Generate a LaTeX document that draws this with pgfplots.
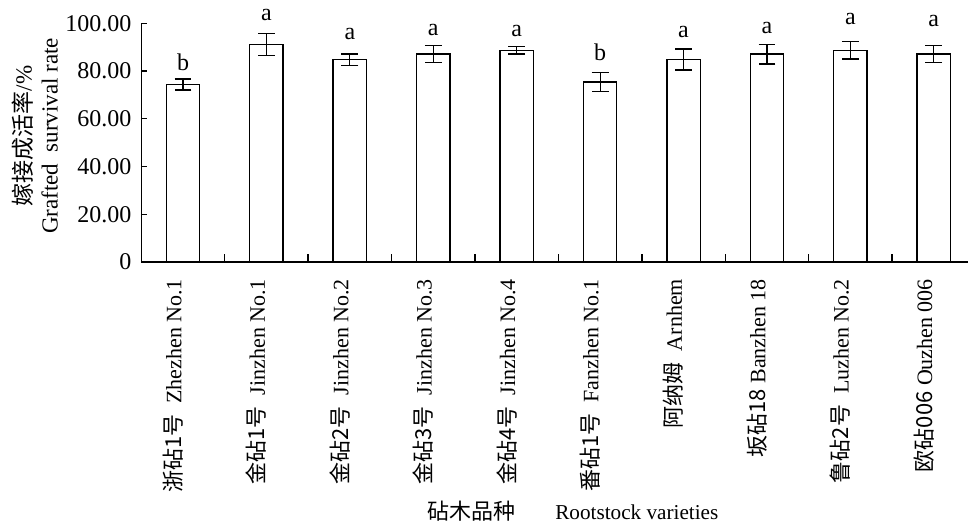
\documentclass[border=0pt]{standalone}
\usepackage{fontspec}
\setmainfont{Liberation Serif}
\newfontfamily\cjk{Noto Sans CJK SC}
\usepackage{pgfplots}
\usepackage{pgfplotstable}
\pgfplotsset{compat=1.18}

\pgfplotstableread{
x y err
0 74.4 2.3
1 91.2 4.6
2 84.8 2.35
3 87.1 3.65
4 88.7 1.6
5 75.4 4.0
6 84.8 4.4
7 87.1 4.15
8 88.7 3.65
9 87.1 3.65
}\datatable

\pgfplotstableread{
x y lab
0 80.4 b
1 101.1 a
2 93.3 a
3 95.1 a
4 94.4 a
5 84.6 b
6 94.1 a
7 95.8 a
8 99.3 a
9 98.6 a
}\lettertable

\begin{document}
\begin{tikzpicture}
\useasboundingbox (0,0) rectangle (484.5pt,263pt);
\begin{axis}[
  at={(70.65pt,132pt)}, anchor=south west,
  scale only axis, width=413.35pt, height=119.35pt,
  xmin=-0.5, xmax=9.41, ymin=0, ymax=100,
  axis x line*=bottom, axis y line*=left,
  axis line style={line width=0.7pt, black},
  ytick={0,20,40,60,80,100},
  yticklabels={0,20.00,40.00,60.00,80.00,100.00},
  xtick={0,...,9},
  xticklabels={
    {\cjk 浙砧1号}\ \ Zhezhen No.1,
    {\cjk 金砧1号}\ \ Jinzhen No.1,
    {\cjk 金砧2号}\ \ Jinzhen No.2,
    {\cjk 金砧3号}\ \ Jinzhen No.3,
    {\cjk 金砧4号}\ \ Jinzhen No.4,
    {\cjk 番砧1号}\ \ Fanzhen No.1,
    {\cjk 阿纳姆}\ \ Arnhem,
    {\cjk 坂砧18} Banzhen 18,
    {\cjk 鲁砧2号}\ \ Luzhen No.2,
    {\cjk 欧砧006} Ouzhen 006},
  major x tick style={draw=none},
  minor xtick={0.5,1.5,...,8.5},
  tick align=inside,
  major tick length=2.8pt, minor tick length=4.2pt,
  tick style={line width=0.7pt, black},
  yticklabel style={font=\fontsize{12}{13}\selectfont, inner sep=0pt, xshift=-4.8pt},
  xticklabel style={font=\fontsize{11}{13}\selectfont, xshift=-5pt, rotate=90, anchor=east},
  xticklabel shift=5pt,
  ylabel={{\cjk 嫁接成活率}/\%\\Grafted\ \ survival rate},
  ylabel style={align=center, font=\fontsize{11.5}{13}\selectfont,
    at={(axis description cs:-0.1286,0.528)}, anchor=center},
  xlabel={{\fontsize{11}{13}\selectfont\cjk 砧木品种}\hspace{20pt}Rootstock varieties},
  xlabel style={font=\fontsize{10.6}{12}\selectfont,
    at={(axis description cs:0.522,-1.043)}, anchor=center},
  clip=false,
]
\addplot[ybar, bar width=0.4, fill=white, draw=black, line width=0.7pt,
  error bars/.cd, y dir=both, y explicit,
  error bar style={line width=0.6pt, black},
  error mark options={rotate=90, mark size=4.2pt, line width=0.6pt, black}]
  table[x=x, y=y, y error=err]{\datatable};
\addplot[only marks, mark=none, nodes near coords, point meta=explicit symbolic,
  nodes near coords style={anchor=base, inner sep=0pt, font=\fontsize{12}{13}\selectfont}]
  table[x=x, y=y, meta=lab]{\lettertable};
\end{axis}
\end{tikzpicture}
\end{document}
